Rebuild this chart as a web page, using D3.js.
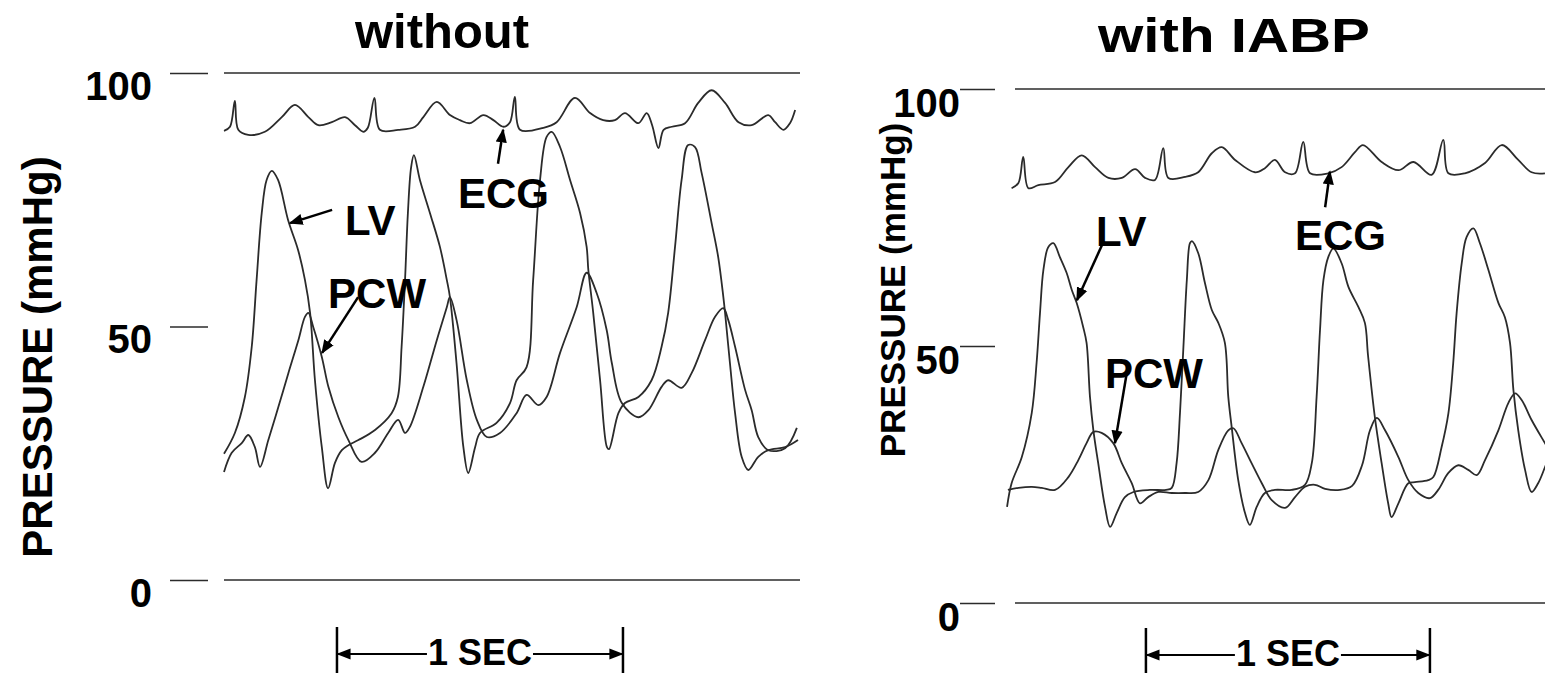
<!DOCTYPE html>
<html>
<head>
<meta charset="utf-8">
<script src="https://d3js.org/d3.v7.min.js"></script>
<style>
body { margin: 0; background: #fff; }
svg { display: block; font-family: 'Liberation Sans', Arial, sans-serif; font-weight: bold; }
</style>
</head>
<body>
<script>
// tracings: [time in s, pressure in mmHg]
const yTicks = [0, 50, 100]
const gridValues = [0, 100]

const leftECG = [[0, 88.6], [0.021, 89.4], [0.038, 94.5], [0.050, 88.8], [0.085, 87.8], [0.143, 88.4], [0.202, 91.3], [0.248, 93.7], [0.295, 91.3], [0.330, 89.7], [0.377, 90.3], [0.423, 91.3], [0.458, 89.7], [0.487, 88.4], [0.503, 89.2], [0.526, 95.1], [0.545, 88.8], [0.609, 88.8], [0.668, 89.4], [0.697, 91.3], [0.744, 94.3], [0.790, 91.7], [0.825, 90.7], [0.860, 90.1], [0.907, 91.7], [0.942, 90.7], [0.977, 89.4], [1.000, 90.3], [1.017, 95.3], [1.035, 88.8], [1.117, 89.2], [1.163, 90.3], [1.227, 95.1], [1.280, 92.1], [1.326, 90.7], [1.367, 90.7], [1.402, 92.1], [1.449, 90.1], [1.478, 92.1], [1.497, 89.7], [1.519, 85.2], [1.537, 88.8], [1.566, 89.4], [1.612, 90.1], [1.658, 94.1], [1.705, 96.6], [1.752, 94.1], [1.799, 90.3], [1.845, 89.7], [1.903, 91.7], [1.927, 90.3], [1.956, 88.8], [1.979, 90.1], [1.997, 92.7]]

const leftLV = [[0, 24.9], [0.038, 29.0], [0.073, 36.1], [0.097, 46.0], [0.114, 59.2], [0.132, 72.4], [0.149, 78.9], [0.167, 80.7], [0.189, 78.9], [0.224, 71.0], [0.259, 65.1], [0.283, 59.2], [0.301, 52.7], [0.318, 39.4], [0.342, 26.2], [0.364, 18.1], [0.388, 23.1], [0.412, 25.6], [0.435, 26.6], [0.470, 27.6], [0.528, 29.6], [0.586, 32.9], [0.608, 36.1], [0.621, 46.0], [0.633, 59.2], [0.643, 72.4], [0.654, 81.3], [0.664, 83.8], [0.685, 78.9], [0.720, 72.4], [0.755, 65.7], [0.779, 59.2], [0.790, 55.8], [0.813, 42.8], [0.837, 26.2], [0.854, 21.1], [0.878, 26.2], [0.895, 29.0], [0.953, 31.0], [1.000, 34.9], [1.023, 39.4], [1.058, 42.0], [1.081, 59.2], [1.105, 78.9], [1.128, 87.4], [1.146, 88.4], [1.175, 85.4], [1.210, 78.9], [1.245, 72.4], [1.268, 65.7], [1.274, 61.1], [1.291, 52.7], [1.315, 39.4], [1.339, 26.2], [1.346, 25.8], [1.379, 32.9], [1.402, 34.9], [1.449, 36.1], [1.495, 39.4], [1.530, 46.0], [1.553, 52.7], [1.577, 65.7], [1.600, 78.9], [1.623, 85.8], [1.647, 85.4], [1.670, 80.3], [1.705, 70.4], [1.728, 63.7], [1.746, 55.8], [1.752, 52.7], [1.769, 42.8], [1.787, 32.9], [1.810, 24.3], [1.833, 21.7], [1.868, 24.3], [1.903, 25.6], [1.962, 26.2], [2.007, 27.6]]

const leftPCW = [[0, 21.3], [0.027, 25.1], [0.062, 27.0], [0.085, 28.6], [0.108, 26.2], [0.126, 22.3], [0.155, 27.6], [0.190, 34.1], [0.225, 40.8], [0.260, 47.3], [0.283, 51.9], [0.295, 52.7], [0.312, 49.9], [0.342, 44.0], [0.365, 38.1], [0.400, 32.1], [0.435, 27.6], [0.481, 23.3], [0.528, 25.1], [0.574, 29.0], [0.609, 31.6], [0.633, 29.0], [0.650, 30.2], [0.697, 38.1], [0.744, 47.3], [0.779, 53.8], [0.790, 55.8], [0.813, 51.3], [0.849, 39.4], [0.884, 31.6], [0.919, 28.2], [0.965, 29.0], [1.023, 32.9], [1.058, 36.5], [1.099, 34.5], [1.128, 36.1], [1.175, 44.8], [1.233, 53.8], [1.268, 60.6], [1.303, 56.6], [1.338, 49.3], [1.356, 42.8], [1.391, 34.9], [1.449, 32.1], [1.484, 33.5], [1.530, 38.1], [1.553, 39.4], [1.600, 37.9], [1.635, 40.8], [1.682, 47.3], [1.717, 51.9], [1.746, 53.6], [1.763, 51.3], [1.787, 46.0], [1.822, 37.5], [1.845, 33.5], [1.868, 28.2], [1.903, 25.6], [1.962, 26.0], [2.003, 30.0]]

const rightECG = [[-0.012, 80.7], [0.012, 81.7], [0.029, 86.8], [0.047, 80.7], [0.082, 81.3], [0.141, 81.9], [0.188, 84.8], [0.235, 87.1], [0.282, 84.8], [0.329, 82.7], [0.376, 82.7], [0.423, 84.4], [0.458, 82.7], [0.493, 82.3], [0.522, 88.5], [0.540, 82.7], [0.599, 82.9], [0.645, 83.8], [0.693, 87.5], [0.728, 88.7], [0.775, 86.2], [0.845, 83.8], [0.880, 84.6], [0.915, 86.2], [0.951, 83.8], [0.986, 83.6], [1.015, 89.7], [1.039, 83.6], [1.103, 83.6], [1.150, 84.8], [1.197, 87.7], [1.225, 89.1], [1.291, 85.8], [1.350, 84.2], [1.403, 85.8], [1.467, 83.3], [1.508, 90.1], [1.526, 83.6], [1.584, 83.6], [1.655, 85.6], [1.714, 89.1], [1.772, 86.2], [1.819, 83.8], [1.866, 83.6]]

const rightLV = [[-0.028, 18.7], [-0.012, 23.3], [0.024, 28.4], [0.059, 37.0], [0.076, 46.7], [0.088, 56.4], [0.100, 64.8], [0.117, 69.2], [0.135, 70.0], [0.158, 67.3], [0.182, 64.2], [0.200, 60.9], [0.217, 58.4], [0.240, 53.7], [0.252, 50.6], [0.264, 40.1], [0.276, 33.6], [0.293, 27.2], [0.317, 18.7], [0.335, 14.8], [0.358, 17.5], [0.387, 20.6], [0.417, 21.6], [0.475, 22.0], [0.532, 22.0], [0.552, 22.4], [0.569, 27.2], [0.581, 37.0], [0.593, 49.8], [0.605, 62.8], [0.616, 70.0], [0.623, 70.4], [0.645, 68.1], [0.669, 62.2], [0.693, 57.0], [0.716, 54.5], [0.739, 50.6], [0.751, 40.1], [0.763, 34.2], [0.786, 23.9], [0.810, 17.5], [0.827, 15.2], [0.851, 18.7], [0.880, 21.4], [0.915, 22.0], [0.974, 22.0], [1.021, 23.0], [1.045, 27.2], [1.062, 40.1], [1.074, 53.1], [1.086, 62.8], [1.103, 67.3], [1.121, 69.0], [1.150, 66.1], [1.174, 61.5], [1.209, 57.6], [1.232, 54.5], [1.243, 48.2], [1.267, 36.2], [1.291, 27.2], [1.314, 19.4], [1.326, 16.7], [1.350, 19.4], [1.385, 23.3], [1.408, 23.5], [1.455, 23.9], [1.473, 24.5], [1.502, 30.3], [1.526, 36.9], [1.543, 46.7], [1.555, 56.4], [1.573, 66.1], [1.590, 71.2], [1.614, 72.9], [1.637, 70.0], [1.667, 64.8], [1.702, 58.4], [1.725, 55.6], [1.743, 50.6], [1.755, 41.4], [1.772, 33.6], [1.796, 25.9], [1.819, 21.6], [1.842, 23.3], [1.866, 26.4], [1.884, 28.8]]

const rightPCW = [[-0.025, 22.0], [0.012, 22.4], [0.059, 22.6], [0.094, 22.4], [0.141, 22.0], [0.188, 24.5], [0.223, 27.8], [0.252, 31.1], [0.276, 33.3], [0.305, 33.1], [0.346, 31.1], [0.376, 27.2], [0.411, 23.3], [0.440, 19.4], [0.469, 20.6], [0.505, 21.6], [0.552, 21.4], [0.599, 21.4], [0.645, 21.6], [0.681, 23.9], [0.716, 29.8], [0.751, 33.6], [0.769, 34.0], [0.798, 31.1], [0.833, 27.2], [0.869, 23.3], [0.904, 20.0], [0.951, 18.5], [0.986, 20.6], [1.021, 22.6], [1.056, 23.0], [1.092, 22.2], [1.144, 22.0], [1.187, 22.8], [1.222, 26.8], [1.250, 33.6], [1.274, 36.0], [1.303, 33.6], [1.350, 28.4], [1.385, 23.9], [1.420, 21.4], [1.461, 20.4], [1.490, 22.0], [1.526, 25.3], [1.561, 26.8], [1.596, 25.9], [1.626, 24.9], [1.655, 27.8], [1.702, 33.6], [1.737, 38.9], [1.761, 40.8], [1.784, 39.5], [1.819, 35.6], [1.866, 31.1], [1.884, 29.4]]

// labels with arrows: text anchor, arrow tail, arrow head  ([s, mmHg])
const leftNotes = [
    { text: 'LV', at: [0.423, 68.0], from: [0.378, 73.0], to: [0.231, 70.4] },
    { text: 'PCW', at: [0.364, 53.6], from: [0.469, 55.8], to: [0.343, 44.8] },
    { text: 'ECG', at: [0.818, 73.4], from: [0.958, 82.1], to: [0.976, 88.8] }
]
const rightNotes = [
    { text: 'LV', at: [0.285, 69.5], from: [0.306, 69.6], to: [0.218, 58.9] },
    { text: 'PCW', at: [0.317, 41.8], from: [0.394, 44.9], to: [0.352, 31.1] },
    { text: 'ECG', at: [0.986, 68.7], from: [1.092, 77.0], to: [1.109, 83.9] }
]
// one second bar, start and end in s
const leftSecBar = [0.395, 1.395]
const rightSecBar = [0.461, 1.461]

const width = 1545, height = 673
const ink = '#2b2b2b'

const svg = d3.select('body').append('svg')
    .attr('width', width)
    .attr('height', height)

svg.append('defs').append('marker')
    .attr('id', 'head')
    .attr('viewBox', '0 0 10 10')
    .attr('refX', 9)
    .attr('refY', 5)
    .attr('markerWidth', 14)
    .attr('markerHeight', 14)
    .attr('markerUnits', 'userSpaceOnUse')
    .attr('orient', 'auto')
    .append('path')
    .attr('d', 'M0,1 L10,5 L0,9 Z')
    .attr('fill', '#000')

const panels = [
    {
        title: 'without', titleX: 442, titleY: 48, titleSize: 48, titleLen: 174,
        x: d3.scaleLinear().domain([0, 2]).range([224, 796]),
        y: d3.scaleLinear().domain([0, 100]).range([580, 73]),
        grid: [0, 2.014],
        axisX: 208, tickLen: 38, pad: 18, labelDy: 26,
        yLabelX: 52, yLabelY: 357, yLabelSize: 42,
        ecg: leftECG, lv: leftLV, pcw: leftPCW, notes: leftNotes,
        secBar: leftSecBar, secY: 654
    },
    {
        title: 'with IABP', titleX: 1234, titleY: 52, titleSize: 48, titleLen: 272,
        x: d3.scaleLinear().domain([0, 2]).range([1015, 1583]),
        y: d3.scaleLinear().domain([0, 100]).range([603, 89]),
        grid: [0, 1.87],
        axisX: 995, tickLen: 35, pad: 0, labelDy: 27,
        yLabelX: 905, yLabelY: 290, yLabelSize: 35,
        ecg: rightECG, lv: rightLV, pcw: rightPCW, notes: rightNotes,
        secBar: rightSecBar, secY: 655
    }
]

panels.forEach(drawPanel)

function drawPanel(p) {
    const g = svg.append('g')

    g.append('text')
        .attr('x', p.titleX)
        .attr('y', p.titleY)
        .attr('text-anchor', 'middle')
        .attr('font-size', p.titleSize)
        .attr('textLength', p.titleLen)
        .attr('lengthAdjust', 'spacingAndGlyphs')
        .text(p.title)

    g.append('text')
        .attr('transform', 'translate(' + p.yLabelX + ',' + p.yLabelY + ') rotate(-90)')
        .attr('text-anchor', 'middle')
        .attr('font-size', p.yLabelSize)
        .text('PRESSURE (mmHg)')

    // ticks with their numbers sitting a bit below
    const axis = svg.append('g')
        .attr('transform', 'translate(' + p.axisX + ',0)')
        .call(d3.axisLeft(p.y).tickValues(yTicks).tickSize(p.tickLen).tickPadding(p.pad))
    axis.attr('font-size', null).attr('font-family', null)
    axis.select('.domain').remove()
    axis.selectAll('.tick line').attr('stroke', ink).attr('stroke-width', 1.5)
    axis.selectAll('.tick text')
        .attr('dy', 0)
        .attr('y', p.labelDy)
        .attr('font-size', 40)
        .attr('fill', '#000')

    g.selectAll('.grid')
        .data(gridValues)
        .enter().append('line')
        .attr('x1', p.x(p.grid[0]))
        .attr('x2', p.x(p.grid[1]))
        .attr('y1', d => p.y(d))
        .attr('y2', d => p.y(d))
        .attr('stroke', ink)
        .attr('stroke-width', 1.5)

    const line = d3.line()
        .x(d => p.x(d[0]))
        .y(d => p.y(d[1]))
        .curve(d3.curveCatmullRom.alpha(0.5))

    g.selectAll('.trace')
        .data([p.ecg, p.pcw, p.lv])
        .enter().append('path')
        .attr('d', line)
        .attr('fill', 'none')
        .attr('stroke', ink)
        .attr('stroke-width', 1.8)
        .attr('stroke-linejoin', 'round')

    p.notes.forEach(n => {
        g.append('line')
            .attr('x1', p.x(n.from[0]))
            .attr('y1', p.y(n.from[1]))
            .attr('x2', p.x(n.to[0]))
            .attr('y2', p.y(n.to[1]))
            .attr('stroke', '#000')
            .attr('stroke-width', 2.5)
            .attr('marker-end', 'url(#head)')
        g.append('text')
            .attr('x', p.x(n.at[0]))
            .attr('y', p.y(n.at[1]))
            .attr('font-size', 42)
            .text(n.text)
    })

    drawSecBar(g, p)
}

function drawSecBar(g, p) {
    const x0 = p.x(p.secBar[0])
    const x1 = p.x(p.secBar[1])
    const mid = (x0 + x1) / 2

    g.selectAll('.sec')
        .data([x0, x1])
        .enter().append('line')
        .attr('x1', d => d)
        .attr('x2', d => d)
        .attr('y1', p.secY - 27)
        .attr('y2', height)
        .attr('stroke', '#000')
        .attr('stroke-width', 2.5)

    const label = g.append('text')
        .attr('x', mid)
        .attr('y', p.secY + 11)
        .attr('text-anchor', 'middle')
        .attr('font-size', 36)
        .text('1 SEC')
    const half = label.node().getComputedTextLength() / 2

    g.selectAll('.secArrow')
        .data([[mid - half - 1, x0 + 1], [mid + half + 1, x1 - 1]])
        .enter().append('line')
        .attr('x1', d => d[0])
        .attr('x2', d => d[1])
        .attr('y1', p.secY)
        .attr('y2', p.secY)
        .attr('stroke', '#000')
        .attr('stroke-width', 2)
        .attr('marker-end', 'url(#head)')
}
</script>
</body>
</html>
